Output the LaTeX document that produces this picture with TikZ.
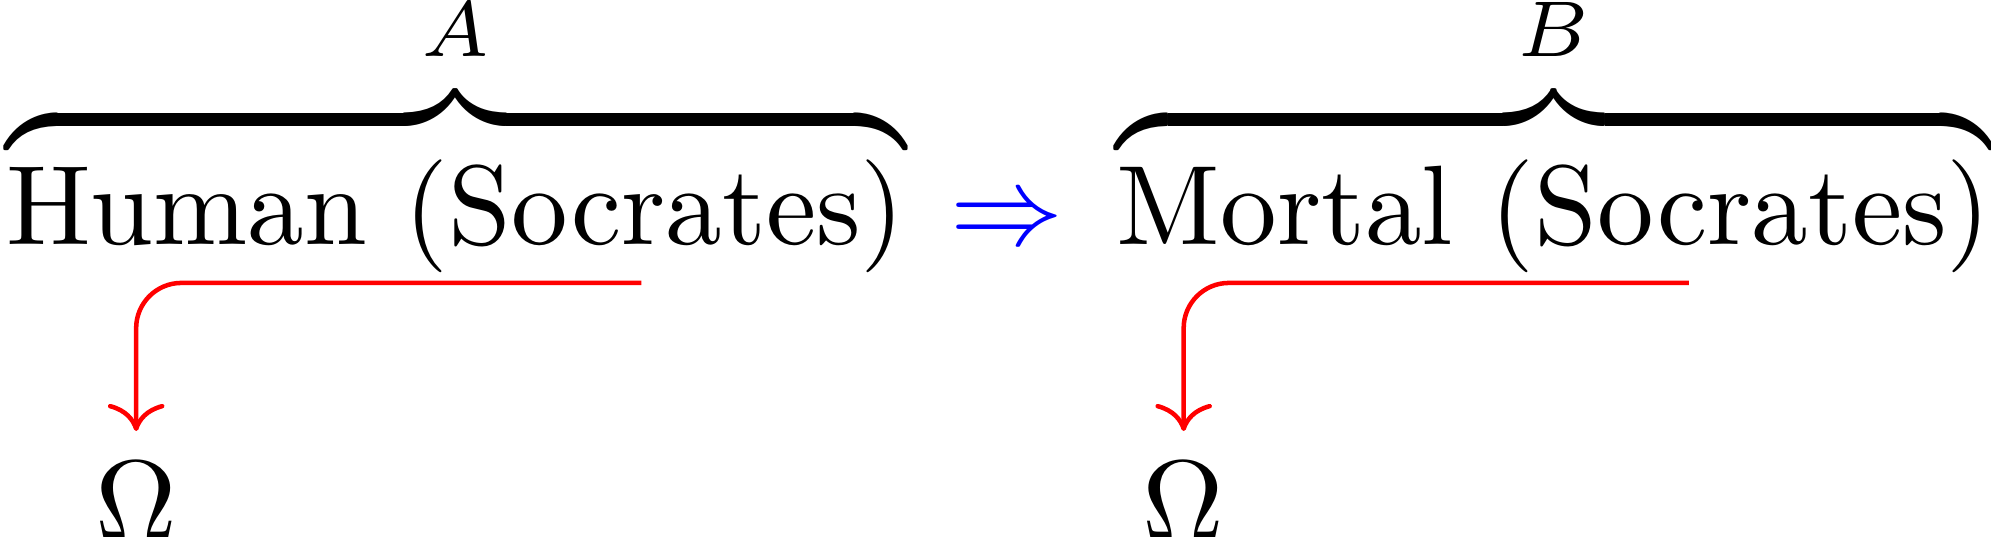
\documentclass[tikz,border=0pt]{standalone}
\usepackage{amsmath}
\usepackage{tikz}
\usetikzlibrary{arrows.meta}

\begin{document}
\begin{tikzpicture}[x=1pt, y=1pt,
  formula/.style={anchor=base west, inner sep=0pt},
  target/.style={anchor=base, inner sep=2.6pt},
  conn/.style={red, rounded corners=4pt, -{To[length=2.4pt,width=5pt]}}]
  \useasboundingbox (-0.35, -25.84) rectangle (175.85, 21.68);

  % premise => conclusion
  \node[formula] (lhs) at (0, 0) {$\overbrace{\text{Human (Socrates)}}^{A}$};
  \node[anchor=base, inner sep=0pt, blue] (imp) at (88.8, 0) {$\Rightarrow$};
  \node[formula] (rhs) at (98.3, 0) {$\overbrace{\text{Mortal (Socrates)}}^{B}$};

  % pointers down to Omega
  \coordinate (sA) at (56.4, -3.36);
  \coordinate (sB) at (149.1, -3.36);
  \node[target] (omA) at (11.7, -26.1) {$\Omega$};
  \node[target] (omB) at (104.4, -26.1) {$\Omega$};
  \draw[conn] (sA) -| (omA);
  \draw[conn] (sB) -| (omB);
\end{tikzpicture}
\end{document}
